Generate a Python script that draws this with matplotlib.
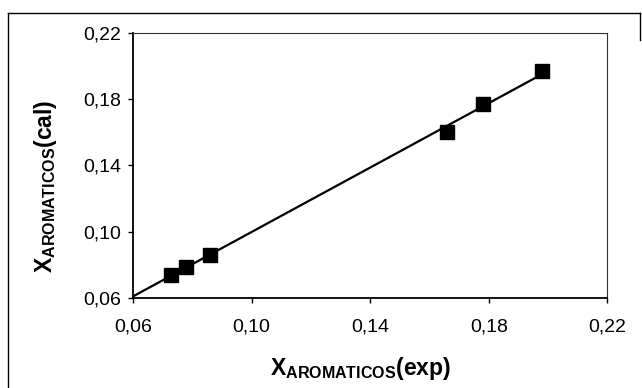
import numpy as np
import matplotlib.pyplot as plt
from matplotlib.lines import Line2D
from matplotlib.ticker import FuncFormatter

# experimental vs calculated aromatic fraction
x_exp = [0.073, 0.078, 0.086, 0.166, 0.178, 0.198]
x_cal = [0.074, 0.079, 0.086, 0.160, 0.177, 0.197]
ticks = [0.06, 0.10, 0.14, 0.18, 0.22]

plt.rcParams['font.family'] = 'Liberation Sans'
plt.rcParams['mathtext.fontset'] = 'custom'
plt.rcParams['mathtext.rm'] = 'Liberation Sans'
plt.rcParams['mathtext.bf'] = 'Liberation Sans:bold'

fig = plt.figure(figsize=(6.42, 3.88), dpi=100)
ax = fig.add_axes([0.207, 0.232, 0.739, 0.683])

# linear trend through the points
slope, icept = np.polyfit(x_exp, x_cal, 1)
xl = np.array([0.06, max(x_exp)])
ax.plot(xl, slope * xl + icept, color='black', lw=1.6, zorder=2)
ax.plot(x_exp, x_cal, 's', color='black', ms=9.5, zorder=3)

ax.set_xlim(0.06, 0.22)
ax.set_ylim(0.06, 0.22)
ax.set_xticks(ticks)
ax.set_yticks(ticks)
fmt = FuncFormatter(lambda v, p: ('%.2f' % v).replace('.', ','))
ax.xaxis.set_major_formatter(fmt)
ax.yaxis.set_major_formatter(fmt)
ax.tick_params(direction='out', length=3.5, width=1, labelsize=14)
ax.tick_params(axis='x', pad=11)
ax.tick_params(axis='y', pad=5)

for s in ['left', 'bottom']:
    ax.spines[s].set_linewidth(1.3)
for s in ['top', 'right']:
    ax.spines[s].set_linewidth(0.8)
    ax.spines[s].set_color('#333333')

ax.set_xlabel(r'$\mathbf{X}_{\mathbf{AROMATICOS}}\mathbf{(exp)}$', fontsize=16.5)
ax.set_ylabel(r'$\mathbf{X}_{\mathbf{AROMATICOS}}\mathbf{(cal)}$', fontsize=16.5)
ax.xaxis.set_label_coords(0.48, -0.215)
ax.yaxis.set_label_coords(-0.155, 0.42)

# outer chart frame
fw, fh = 642.0, 388.0
for xs, ys in [([8, 640], [13, 13]), ([8, 8], [13, 388]), ([640, 640], [13, 40])]:
    fig.add_artist(Line2D([x / fw for x in xs], [1 - y / fh for y in ys],
                          color='black', lw=1.0, transform=fig.transFigure))

plt.savefig('out.png', dpi=100)
